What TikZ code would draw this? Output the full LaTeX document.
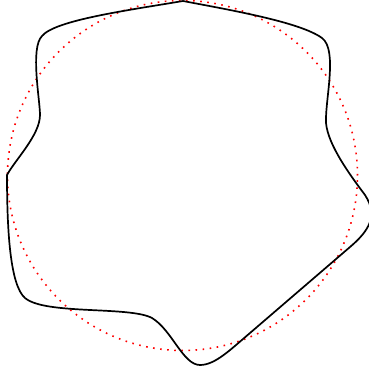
\documentclass[tikz,border=0pt]{standalone}
\begin{document}
\begin{tikzpicture}[x=1pt,y=-1pt,
  ref/.style={red, line width=1.6pt, dash pattern=on 1.6pt off 5.5pt},
  blob/.style={black, line width=1.7pt, line join=round}]
\useasboundingbox (0,0) rectangle (369,375);
\draw[ref] (182.5,175.5) circle (175pt);
\draw[blob] (183,1) .. controls (130,10) and (55,20) .. (42,36)
  .. controls (30,48) and (40,100) .. (40,115)
  .. controls (40,135) and (15,160) .. (7,175)
  .. controls (7,230) and (10,285) .. (25,298)
  .. controls (45,315) and (130,306) .. (152,318)
  .. controls (172,330) and (183,365) .. (200,365)
  .. controls (215,365) and (230,350) .. (250,333)
  -- (350,247)
  .. controls (370,230) and (378,215) .. (365,195)
  .. controls (350,175) and (328,145) .. (326,123)
  .. controls (325,100) and (338,50) .. (322,38)
  .. controls (300,22) and (230,10) .. (183,1) -- cycle;
\end{tikzpicture}
\end{document}
